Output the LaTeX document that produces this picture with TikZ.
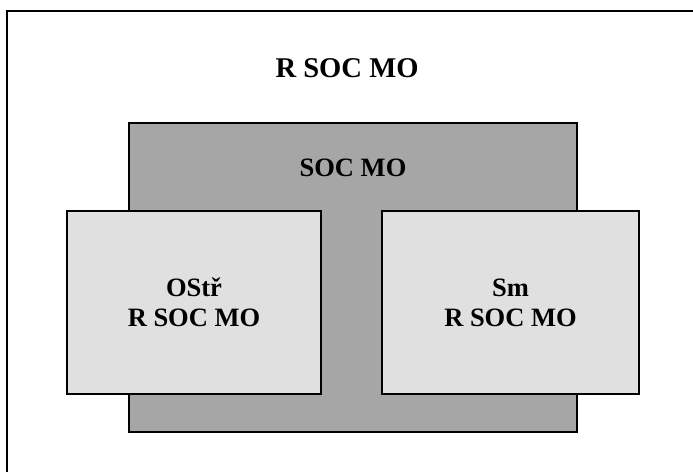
\documentclass[tikz,border=0pt]{standalone}
\usepackage{fontspec}
\setmainfont{Liberation Serif}
\usepackage{tikz}
\definecolor{darkbox}{gray}{0.65}
\definecolor{lightbox}{gray}{0.88}

\begin{document}
\begin{tikzpicture}[x=1bp,y=-1bp,line width=2bp,
        unit/.style={draw=black,rectangle,inner sep=0pt,outer sep=0pt},
        bigfont/.style={font=\fontsize{28.6bp}{32bp}\selectfont\bfseries},
        boxfont/.style={font=\fontsize{26.5bp}{30bp}\selectfont\bfseries,align=center}]
        \useasboundingbox (0,0) rectangle (693,472);

        % the outer frame, cut off at the right and at the bottom
        \draw (6.5,480) |- (700,11);
        \node[bigfont] (title) at (347,68) {R SOC MO};

        % the grey unit behind
        \node[unit,fill=darkbox,minimum width=448bp,minimum height=309bp] (soc) at (353,277.5) {};
        \node[boxfont] (soclabel) at (353,168) {SOC MO};

        % the two light units in front
        \node[unit,fill=lightbox,minimum width=254bp,minimum height=183bp,boxfont] (ostr) at (194,302.5) {OStř\\R SOC MO};
        \node[unit,fill=lightbox,minimum width=257bp,minimum height=183bp,boxfont] (sm) at (510.5,302.5) {Sm\\R SOC MO};
    \end{tikzpicture}
\end{document}
